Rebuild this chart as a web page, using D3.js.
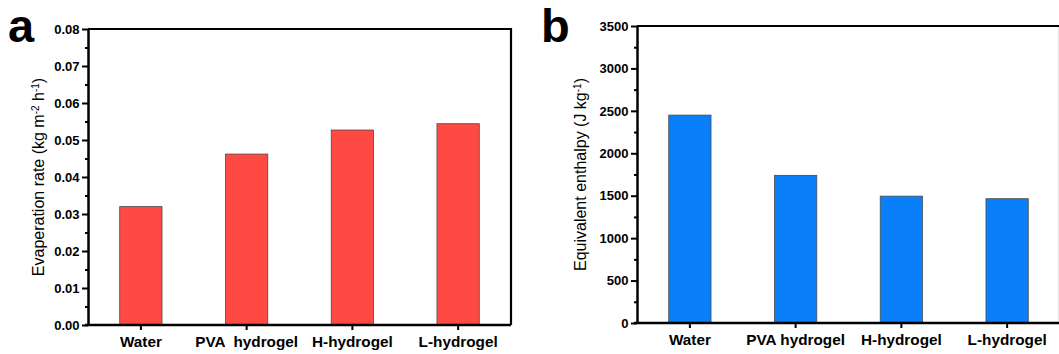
<!DOCTYPE html>
<html>
<head>
<meta charset="utf-8">
<script src="https://cdn.jsdelivr.net/npm/d3@7"></script>
<style>
	body { margin: 0; background: #fff; }
	svg { display: block; font-family: Arial, "Liberation Sans", sans-serif; }
	text { white-space: pre; }
</style>
</head>
<body>
<svg width="1059" height="354"></svg>
<script>
// data
const categoriesA = ["Water", "PVA  hydrogel", "H-hydrogel", "L-hydrogel"];
const categoriesB = ["Water", "PVA hydrogel", "H-hydrogel", "L-hydrogel"];
const evapRate = [0.032, 0.0462, 0.0527, 0.0544];
const enthalpy = [2450, 1740, 1495, 1465];
const ticksA = [0, 0.01, 0.02, 0.03, 0.04, 0.05, 0.06, 0.07, 0.08];
const ticksB = [0, 500, 1000, 1500, 2000, 2500, 3000, 3500];

let svg = d3.select("svg");

function drawPanel(o) {
	let g = svg.append("g");

	let x = d3.scaleBand()
		.domain(o.cats)
		.range([o.left, o.right])
		.paddingInner(0.6)
		.paddingOuter(0.3);

	let y = d3.scaleLinear()
		.domain(o.domain)
		.range([o.bottom, o.top]);

	// minor ticks (half step)
	let step = o.ticks[1] - o.ticks[0];
	let minor = o.ticks.slice(0, -1).map(t => t + step / 2);
	g.append("g")
		.attr("transform", "translate(" + o.left + ",0)")
		.call(d3.axisLeft(y).tickValues(minor).tickSize(3).tickFormat(""))
		.call(s => s.select(".domain").remove())
		.selectAll("line").attr("stroke-width", 2);

	// bars
	g.append("g").selectAll("rect")
		.data(o.values)
		.enter().append("rect")
		.attr("x", (d, i) => x(o.cats[i]))
		.attr("width", x.bandwidth())
		.attr("y", d => y(d))
		.attr("height", d => o.bottom - y(d))
		.attr("fill", o.color)
		.attr("stroke", "#4a4a4a")
		.attr("stroke-width", 0.8);

	// frame top + right
	g.append("path")
		.attr("d", "M" + o.left + "," + o.top + "H" + o.right + "V" + o.bottom)
		.attr("fill", "none")
		.attr("stroke", "#000")
		.attr("stroke-width", 2.2);

	let ya = g.append("g")
		.attr("transform", "translate(" + o.left + ",0)")
		.call(d3.axisLeft(y).tickValues(o.ticks).tickSize(6).tickPadding(2.5).tickSizeOuter(0)
			.tickFormat(o.fmt));
	ya.select(".domain").attr("stroke-width", 2.5);
	ya.selectAll("line").attr("stroke-width", 2);
	ya.selectAll("text")
		.attr("font-size", 13)
		.attr("font-weight", "bold")
		.attr("font-family", "Arial, 'Liberation Sans', sans-serif")
		.attr("fill", "#000");

	let xa = g.append("g")
		.attr("transform", "translate(0," + o.bottom + ")")
		.call(d3.axisBottom(x).tickSize(5).tickPadding(6).tickSizeOuter(0));
	xa.select(".domain")
		.attr("d", "M" + (o.left - 3) + ",0H" + o.right)
		.attr("stroke-width", 2.5);
	xa.selectAll("line").attr("stroke-width", 2);
	xa.selectAll("text")
		.attr("font-size", 15.3)
		.attr("font-weight", "bold")
		.attr("font-family", "Arial, 'Liberation Sans', sans-serif")
		.attr("fill", "#000");

	// y label
	let lab = g.append("text")
		.attr("transform", "translate(" + o.labelX + "," + ((o.top + o.bottom) / 2) + ") rotate(-90)")
		.attr("text-anchor", "middle")
		.attr("font-size", 16)
		.attr("fill", "#000");
	o.label.forEach(p => {
		let t = lab.append("tspan").text(p.t);
		if (p.sup) t.attr("font-size", 10).attr("baseline-shift", "super");
	});

	// panel letter
	g.append("text")
		.attr("x", o.letterX)
		.attr("y", 42)
		.attr("font-size", 47)
		.attr("font-weight", "bold")
		.text(o.letter);
}

drawPanel({
	cats: categoriesA, values: evapRate, domain: [0, 0.08], ticks: ticksA,
	fmt: d3.format(".2f"), color: "#FE4A43",
	left: 88, right: 511, top: 29, bottom: 325, labelX: 44, letterX: 8,
	letter: "a",
	label: [{t: "Evaperation rate (kg m"}, {t: "-2", sup: true}, {t: " h"}, {t: "-1", sup: true}, {t: ")"}]
});

drawPanel({
	cats: categoriesB, values: enthalpy, domain: [0, 3500], ticks: ticksB,
	fmt: d3.format("d"), color: "#0980FA",
	left: 637, right: 1060, top: 26, bottom: 323, labelX: 586, letterX: 541,
	letter: "b",
	label: [{t: "Equivalent enthalpy (J kg"}, {t: "-1", sup: true}, {t: ")"}]
});
</script>
</body>
</html>
